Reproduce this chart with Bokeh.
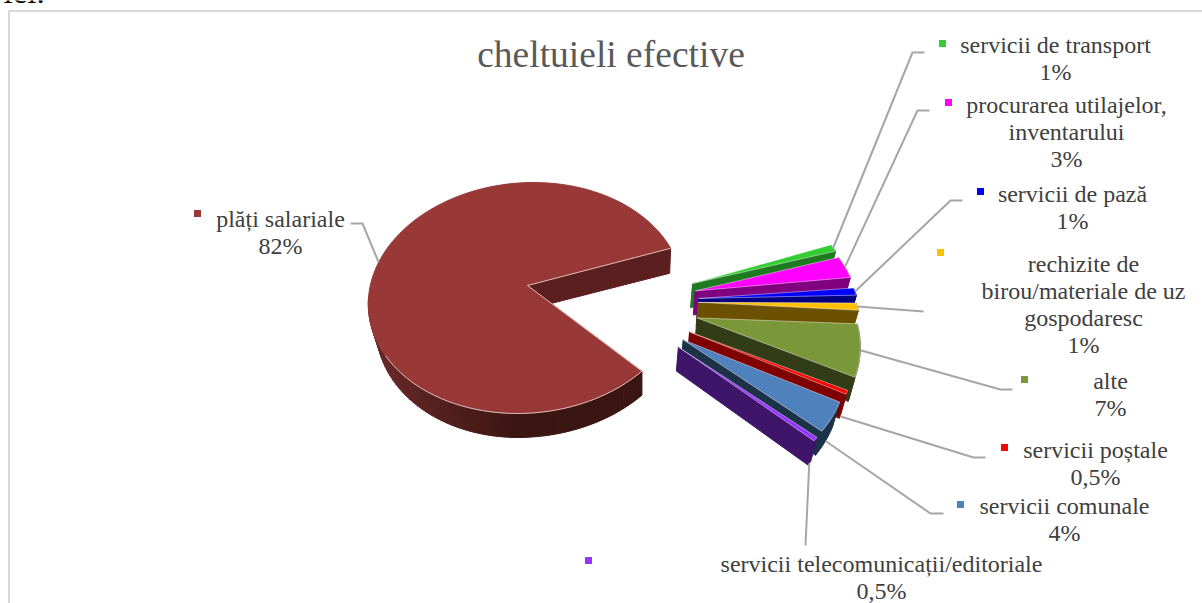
import math
from bokeh.plotting import figure
from bokeh.models import Range1d
from bokeh.core.properties import value
from bokeh.embed import file_html
from bokeh.resources import INLINE

# ---------- data ----------
title = "cheltuieli efective"
categories = ["servicii de transport", "procurarea utilajelor, inventarului", "servicii de pază",
              "rechizite de birou/materiale de uz gospodaresc", "alte", "servicii poștale",
              "servicii comunale", "servicii telecomunicații/editoriale", "plăți salariale"]
values = [1, 3, 1, 1, 7, 0.5, 4, 0.5, 82]
label_lines = [["servicii de transport"], ["procurarea utilajelor,", "inventarului"], ["servicii de pază"],
               ["rechizite de", "birou/materiale de uz", "gospodaresc"], ["alte"], ["servicii poștale"],
               ["servicii comunale"], ["servicii telecomunicații/editoriale"], ["plăți salariale"]]

# ---------- style / layout ----------
top_colors = ["#33cc33", "#ff00ff", "#0000ff", "#ffc000", "#7a9839", "#ff0000", "#4f81bd", "#9933ff", "#983937"]
wall_colors = ["#1e7a1e", "#800080", "#000080", "#6b5000", "#323d17", "#7f0000", "#1c3249", "#3f1569", "#5a1f1e"]
explode = [1.03, 1.0, 0.99, 0.98, 0.98, 1.0, 1.03, 1.1]
slice_drop = [-2, -3, 0, 4, 2, 1, 1, 0]
label_cx = [1055, 1066, 1072, 1083, 1110, 1095, 1064, 881, 280]
label_y0 = [44, 104, 193, 263, 380, 449, 505, 563, 218]
marker_xy = [(942, 43), (948, 102), (980, 191), (940, 252), (1024, 379), (1004, 447), (960, 504), (588, 560), (197, 213)]
leader_rest = [[(912, 52), (924, 52)], [(917, 110), (929, 110)], [(950, 200), (962, 200)], [(923, 311)],
               [(1000, 389), (1012, 389)], [(973, 457), (985, 457)], [(930, 513), (943, 513)], [(805, 545)],
               [(362, 223), (350, 223)]]
leader_from_wall = [False, False, False, False, False, True, True, True]
W, H = 1202, 603
FONT = value("Liberation Serif")
START = 25.5
THICK = 24

p = figure(width=W, height=H, x_range=Range1d(0, W), y_range=Range1d(H, 0), output_backend="svg",
           toolbar_location=None, min_border=0, outline_line_color=None, margin=(0, 0, 0, 0))
p.xaxis.visible = False
p.yaxis.visible = False
p.grid.visible = False


def lerp_hex(a, b, f):
    ca = [int(a[i:i + 2], 16) for i in (1, 3, 5)]
    cb = [int(b[i:i + 2], 16) for i in (1, 3, 5)]
    return "#%02x%02x%02x" % tuple(round(x + (y - x) * f) for x, y in zip(ca, cb))


def poly(pts, fill, line=None, lw=1.0, alpha=1.0):
    p.patch([q[0] for q in pts], [q[1] for q in pts], fill_color=fill,
            line_color=line if line else fill, line_width=lw if line else 1.0, line_alpha=alpha)


def path(pts, color="#f2e6e6", lw=1.0, alpha=0.75):
    p.line([q[0] for q in pts], [q[1] for q in pts], line_color=color, line_width=lw, line_alpha=alpha)


# chart frame
p.line([8.5, 8.5, W], [H, 10.5, 10.5], line_color="#d9d9d9", line_width=2)

# caption of the page above the chart, cut by the window
p.text([3], [-9], text=["lei."], text_font=FONT, text_font_size="33px", text_color="#000000",
       text_align="left", text_baseline="alphabetic")

# ---------- angles from the values ----------
total = sum(values)
spans = []
a = START
for v in values:
    s = v / total * 360
    spans.append((a, a - s))
    a -= s


def main_pt(t):
    r = math.radians(t)
    return (525 + 157 * math.cos(r) + 8 * math.sin(r), 297.5 - 115.5 * math.sin(r))


def main_down(q):
    return (q[0] + 0.05 * max(0, 527 - q[0]), q[1] + THICK)


def steps(t0, t1, n):
    return [t0 + (t1 - t0) * i / n for i in range(n + 1)]


# ---------- main slice ----------
APEX = (527, 285)
t_start = START
t_end = START + values[-1] / total * 360
main_ts = steps(t_start, t_end, 120)
main_arc = [main_pt(t) for t in main_ts]
o0 = main_arc[0]
poly([APEX, o0, (o0[0] - 1, o0[1] + THICK + 1), (APEX[0], APEX[1] + THICK)], wall_colors[8])
ws = steps(180, t_end, 60)
for t0, t1 in zip(ws[:-1], ws[1:]):
    q0, q1 = main_pt(t0), main_pt(t1)
    f = min(1, max(0, ((q0[0] + q1[0]) / 2 - 380) / 140))
    poly([q0, q1, main_down(q1), main_down(q0)], lerp_hex("#662826", "#3a1512", f))
poly([APEX] + main_arc, top_colors[8])
path([o0, APEX, main_arc[-1]])
path([main_pt(t) for t in steps(210, t_end, 40)])

# ---------- exploded slices, painted back to front ----------
mid_points = []
for i in range(8):
    t0, t1 = spans[i]
    mid = (t0 + t1) / 2
    rm = math.radians(mid)
    apex = (527 + 175 * explode[i] * math.cos(rm), 308 - 62 * math.sin(rm))

    def pt(t):
        r = math.radians(t)
        s = 1 - 0.13 * math.sin(r)
        return (apex[0] + s * 162 * math.cos(r), apex[1] + slice_drop[i] + s * (12 - 118 * math.sin(r)))

    arc = [pt(t) for t in steps(t0, t1, 12)]
    down = lambda q: (q[0] - 2 - 5 * (q[0] - apex[0]) / 160, q[1] + THICK)
    poly(arc + [down(q) for q in reversed(arc)], wall_colors[i])
    poly([apex, arc[-1], down(arc[-1]), down(apex)], wall_colors[i])
    poly([apex] + arc, top_colors[i], line="#ffffff", lw=0.8, alpha=0.55)
    mid_points.append(down(pt(mid)) if leader_from_wall[i] else pt(mid))
mid_points.append(main_pt(162))

# ---------- leaders ----------
for mp, rest in zip(mid_points, leader_rest):
    pts = [mp] + rest
    p.line([q[0] for q in pts], [q[1] for q in pts], line_color="#a6a6a6", line_width=2)

# ---------- labels ----------
p.text([610.5], [54], text=[title], text_font=FONT, text_font_size="37.5px", text_color="#595959",
       text_align="center", text_baseline="middle")


def pct(v):
    return f"{v:g}".replace(".", ",") + "%"


for lines, v, cx, y0, col, (mx, my) in zip(label_lines, values, label_cx, label_y0, top_colors, marker_xy):
    ys, txt = [], []
    for k, line in enumerate(lines + [pct(v)]):
        ys.append(y0 + k * 27)
        txt.append(line)
    p.text([cx] * len(ys), ys, text=txt, text_font=FONT, text_font_size="24px", text_color="#404040",
           text_align="center", text_baseline="middle")
    p.scatter([mx], [my], marker="square", size=7, fill_color=col, line_color=col, line_width=0)

open("out.html", "w").write(file_html(p, INLINE))
